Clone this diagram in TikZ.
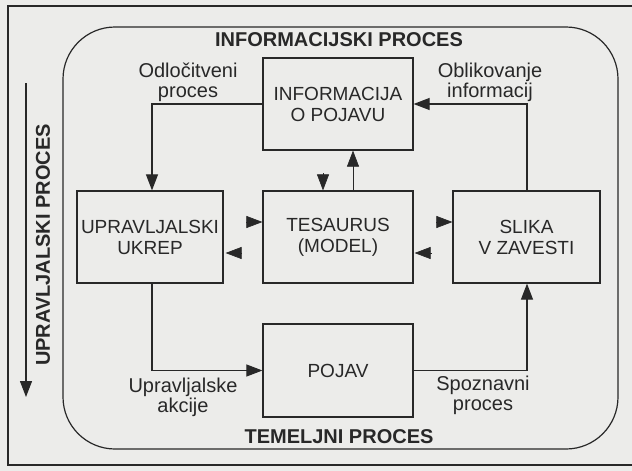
\documentclass[tikz,border=0pt]{standalone}
\usepackage{fontspec}
\setmainfont{Liberation Sans}
\usetikzlibrary{arrows.meta}
\definecolor{ink}{RGB}{40,40,40}
\definecolor{paper}{RGB}{236,236,234}
\tikzset{
  box/.style={draw=ink, line width=1.2pt, minimum width=150pt, minimum height=92pt,
    inner sep=0pt, align=center, font=\fontsize{19}{21}\selectfont, text=ink},
  lbl/.style={align=center, font=\fontsize{20}{20}\selectfont, text=ink, inner sep=0pt},
  ttl/.style={font=\bfseries\fontsize{20}{22}\selectfont, text=ink, inner sep=0pt},
  conn/.style={draw=ink, line width=1.1pt, -{Triangle[length=16pt,width=12pt]}},
  stub/.style={draw=ink, line width=0.6pt, -{Triangle[length=16pt,width=12pt]}},
}
\begin{document}
\begin{tikzpicture}[x=1pt,y=-1pt]
\path[fill=paper] (0,0) rectangle (632,471);
\useasboundingbox (0,0) rectangle (632,471);
% outer frame
\draw[ink, line width=1.3pt] (640,6) -- (8,6) -- (8,465) -- (640,465);
% rounded region
\draw[ink, line width=1.2pt, rounded corners=52pt] (63,27) rectangle (618,449);
\node[ttl] (tinfo) at (339,40) {INFORMACIJSKI PROCES};
\node[ttl] (ttem) at (339,437) {TEMELJNI PROCES};
% left vertical
\node[ttl, rotate=90] (tupr) at (43,245) {UPRAVLJALSKI PROCES};
\coordinate (la) at (26,83);
\coordinate (lb) at (26,397);
\draw[conn, line width=1.3pt] (la) -- (lb);
% boxes
\node[box] (info) at (338,104) {INFORMACIJA\\O POJAVU};
\node[box, minimum width=146pt] (upr) at (150,237) {UPRAVLJALSKI\\UKREP};
\node[box] (tes) at (338,237) {TESAURUS\\(MODEL)};
\node[box, minimum width=147pt] (slika) at (526.5,237) {SLIKA\\V ZAVESTI};
\node[box, minimum height=93pt] (pojav) at (338,370.5) {POJAV};
% labels
\node[lbl] (l1) at (188,82) {Odločitveni\\proces};
\node[lbl] (l2) at (490,82) {Oblikovanje\\informacij};
\node[lbl] (l3) at (183,397) {Upravljalske\\akcije};
\node[lbl] (l4) at (483,395) {Spoznavni\\proces};
% connectors
\draw[conn] (info.west) -| ([xshift=2pt]upr.north);
\draw[conn] ([xshift=0.5pt]slika.north) |- (info.east);
\draw[conn, line width=0.6pt] ([xshift=15pt]tes.north) -- ([xshift=15pt]info.south);
\draw[stub] ([xshift=-15pt,yshift=17pt]tes.north) -- ([xshift=-15pt]tes.north);
\draw[conn] ([xshift=2pt]upr.south) |- (pojav.west);
\draw[conn] (pojav.east) -| ([xshift=0.5pt]slika.south);
% short arrowheads between middle boxes
\draw[stub] ([xshift=-16pt,yshift=15pt]tes.west) -- ([yshift=15pt]tes.west);
\draw[stub] ([xshift=18pt,yshift=-16pt]upr.east) -- ([xshift=2pt,yshift=-16pt]upr.east);
\draw[stub] ([xshift=-16pt,yshift=15pt]slika.west) -- ([yshift=15pt]slika.west);
\draw[stub] ([xshift=18pt,yshift=-16pt]tes.east) -- ([xshift=1pt,yshift=-16pt]tes.east);
\end{tikzpicture}
\end{document}
